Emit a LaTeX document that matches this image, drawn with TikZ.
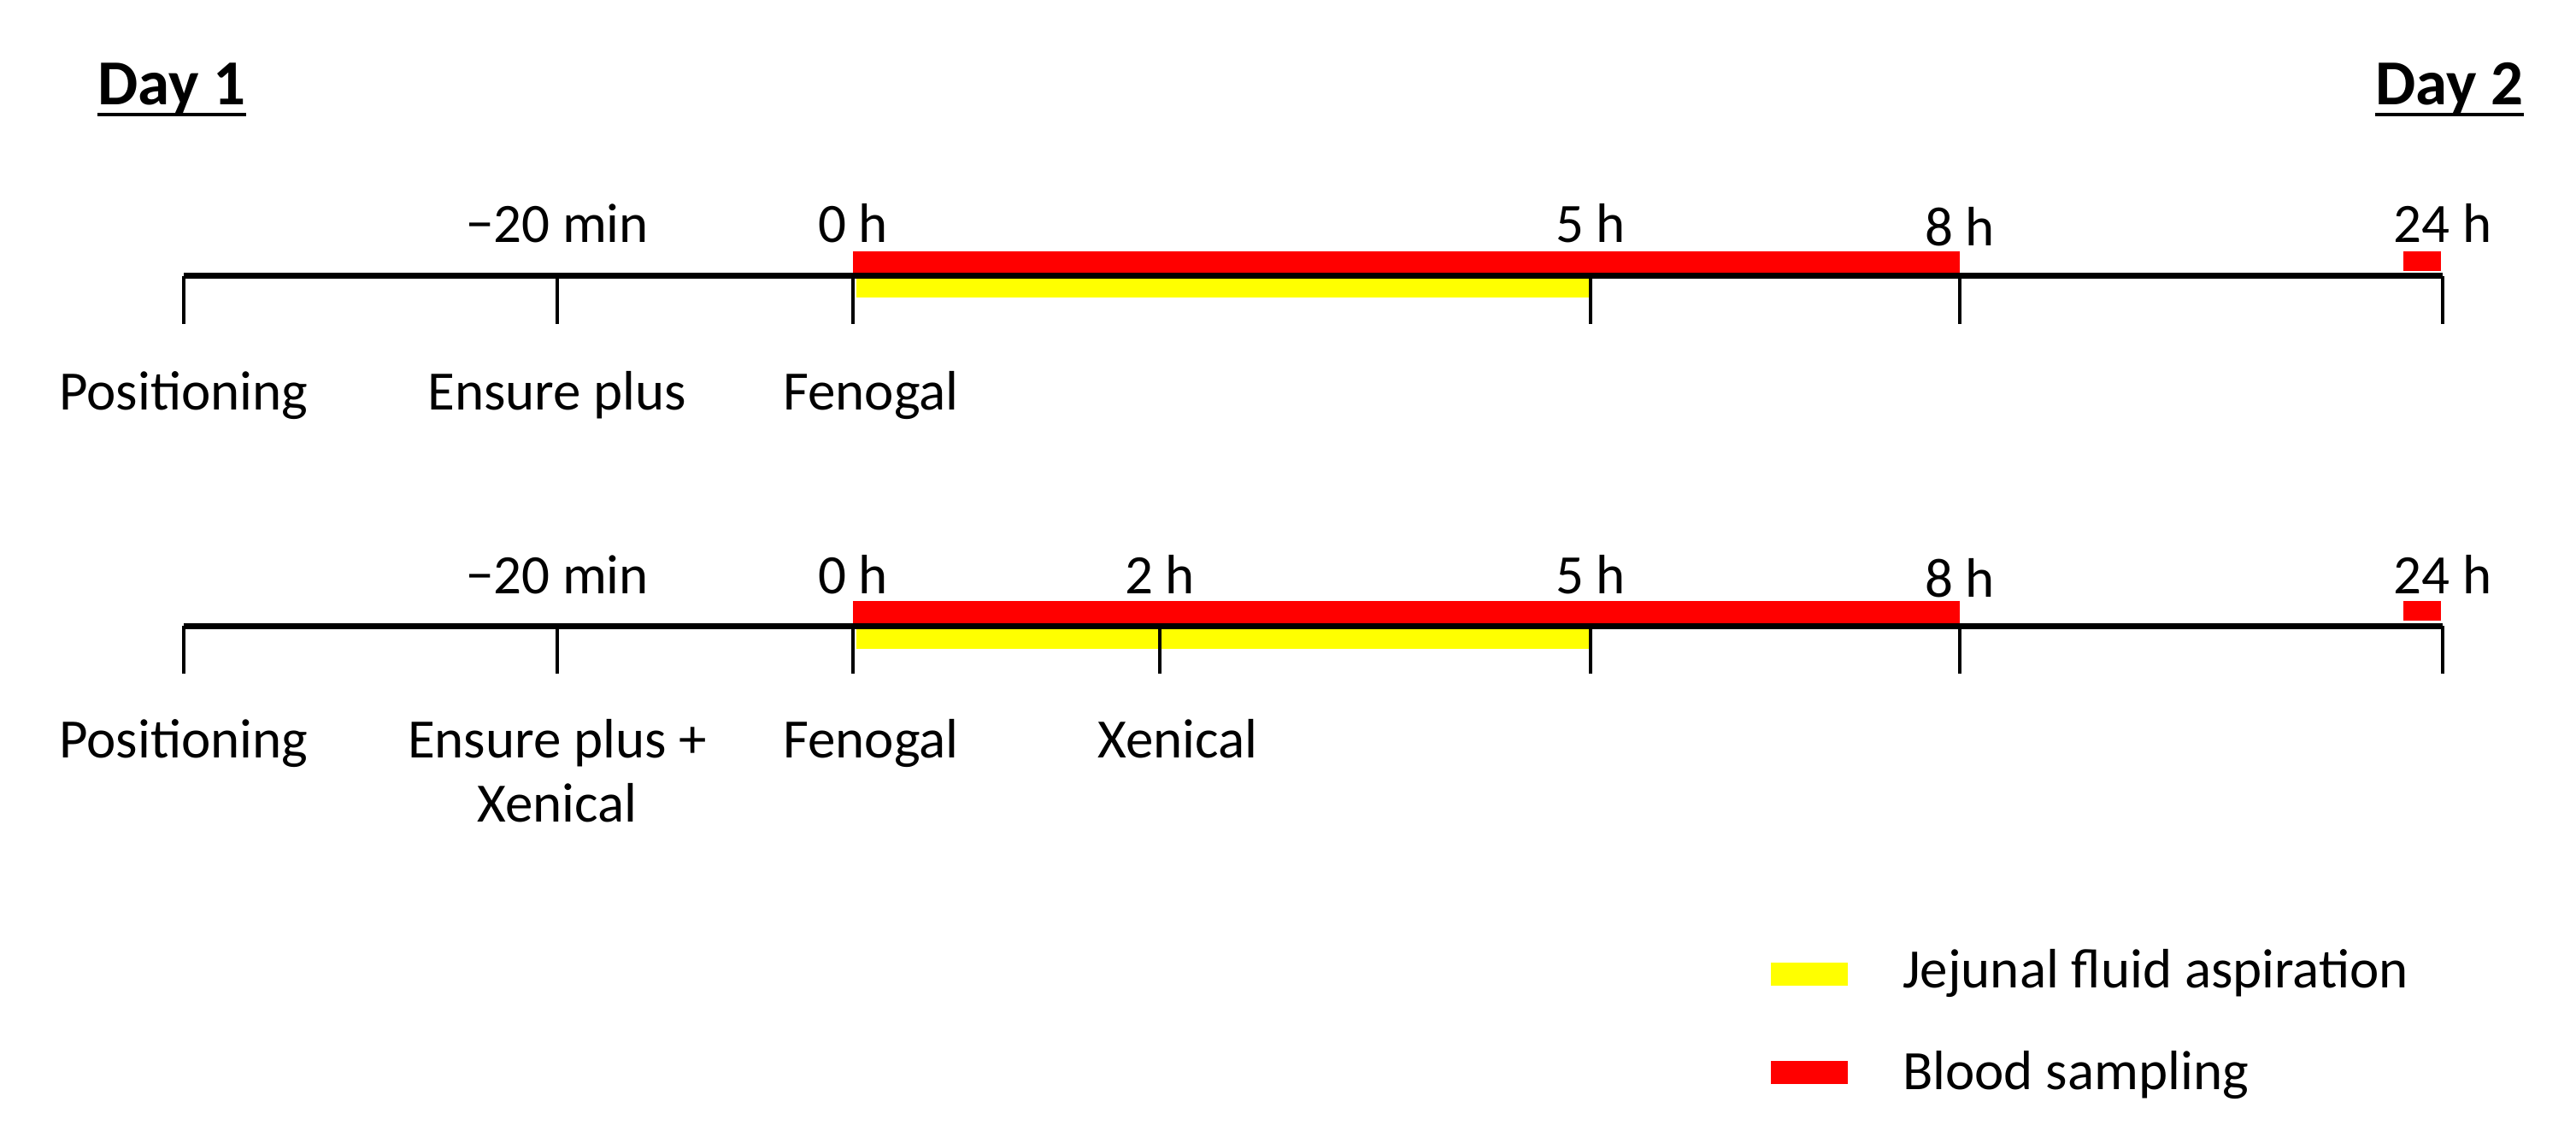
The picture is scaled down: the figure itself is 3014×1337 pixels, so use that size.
\documentclass[tikz,border=0pt]{standalone}
\usepackage{fontspec}
\setmainfont{Carlito}
\definecolor{bred}{RGB}{255,0,0}
\definecolor{jyel}{RGB}{255,255,0}
\begin{document}
\begin{tikzpicture}[x=1pt,y=-1pt,
  lbl/.style={font=\fontsize{65}{78}\selectfont, inner sep=0pt, anchor=base},
  day/.style={font=\fontsize{75}{90}\selectfont\bfseries, inner sep=0pt, anchor=base},
  axisline/.style={line width=7pt},
  tickline/.style={line width=4.5pt},
  uline/.style={line width=4pt},
  redbar/.style={fill=bred, draw=none},
  yelbar/.style={fill=jyel, draw=none}]
\useasboundingbox (0,0) rectangle (3014,1337);
% day labels
\node[day] (day1) at (201,123) {Day 1};
\node[day] (day2) at (2866,123) {Day 2};
\draw[uline] ([yshift=-11pt]day1.base west) -- ([yshift=-11pt]day1.base east);
\draw[uline] ([yshift=-11pt]day2.base west) -- ([yshift=-11pt]day2.base east);
% ===== top timeline =====
\foreach \n/\x in {a/215,b/652,c/998,d/1861,e/2293,f/2858}{
  \coordinate (t\n) at (\x,323);
  \coordinate (t\n b) at (\x,379);
}
\fill[redbar] (998,294) rectangle (2293,321);
\fill[redbar] (2812,294) rectangle (2856,317);
\fill[yelbar] (1002,325) rectangle (1861,348);
\draw[axisline] (ta) -- (tf);
\foreach \n in {a,b,c,d,e,f}{ \draw[tickline] (t\n) -- (t\n b); }
\node[lbl] (tm20) at (652,284) {−20 min};
\node[lbl] (t0) at (998,284) {0 h};
\node[lbl] (t5) at (1861,284) {5 h};
\node[lbl] (t8) at (2293,288) {8 h};
\node[lbl] (t24) at (2858,284) {24 h};
\node[lbl] (tpos) at (215,479) {Positioning};
\node[lbl] (tens) at (652,479) {Ensure plus};
\node[lbl] (tfen) at (1019,479) {Fenogal};
% ===== bottom timeline =====
\foreach \n/\x in {a/215,b/652,c/998,g/1357,d/1861,e/2293,f/2858}{
  \coordinate (u\n) at (\x,732);
  \coordinate (u\n b) at (\x,788);
}
\fill[redbar] (998,703) rectangle (2293,730);
\fill[redbar] (2812,703) rectangle (2856,726);
\fill[yelbar] (1002,734) rectangle (1861,759);
\draw[axisline] (ua) -- (uf);
\foreach \n in {a,b,c,g,d,e,f}{ \draw[tickline] (u\n) -- (u\n b); }
\node[lbl] (um20) at (652,694) {−20 min};
\node[lbl] (u0) at (998,694) {0 h};
\node[lbl] (u2) at (1357,694) {2 h};
\node[lbl] (u5) at (1861,694) {5 h};
\node[lbl] (u8) at (2293,698) {8 h};
\node[lbl] (u24) at (2858,694) {24 h};
\node[lbl] (upos) at (215,886) {Positioning};
\node[lbl] (uens) at (652,886) {Ensure plus +};
\node[lbl] (uens2) at (652,961) {Xenical};
\node[lbl] (ufen) at (1019,886) {Fenogal};
\node[lbl] (uxen) at (1378,886) {Xenical};
% ===== legend =====
\fill[yelbar] (2072,1126) rectangle (2162,1153);
\node[lbl, anchor=base west] (ljej) at (2226,1155) {Jejunal fluid aspiration};
\fill[redbar] (2072,1241) rectangle (2162,1268);
\node[lbl, anchor=base west] (lblood) at (2226,1274) {Blood sampling};
\end{tikzpicture}
\end{document}
